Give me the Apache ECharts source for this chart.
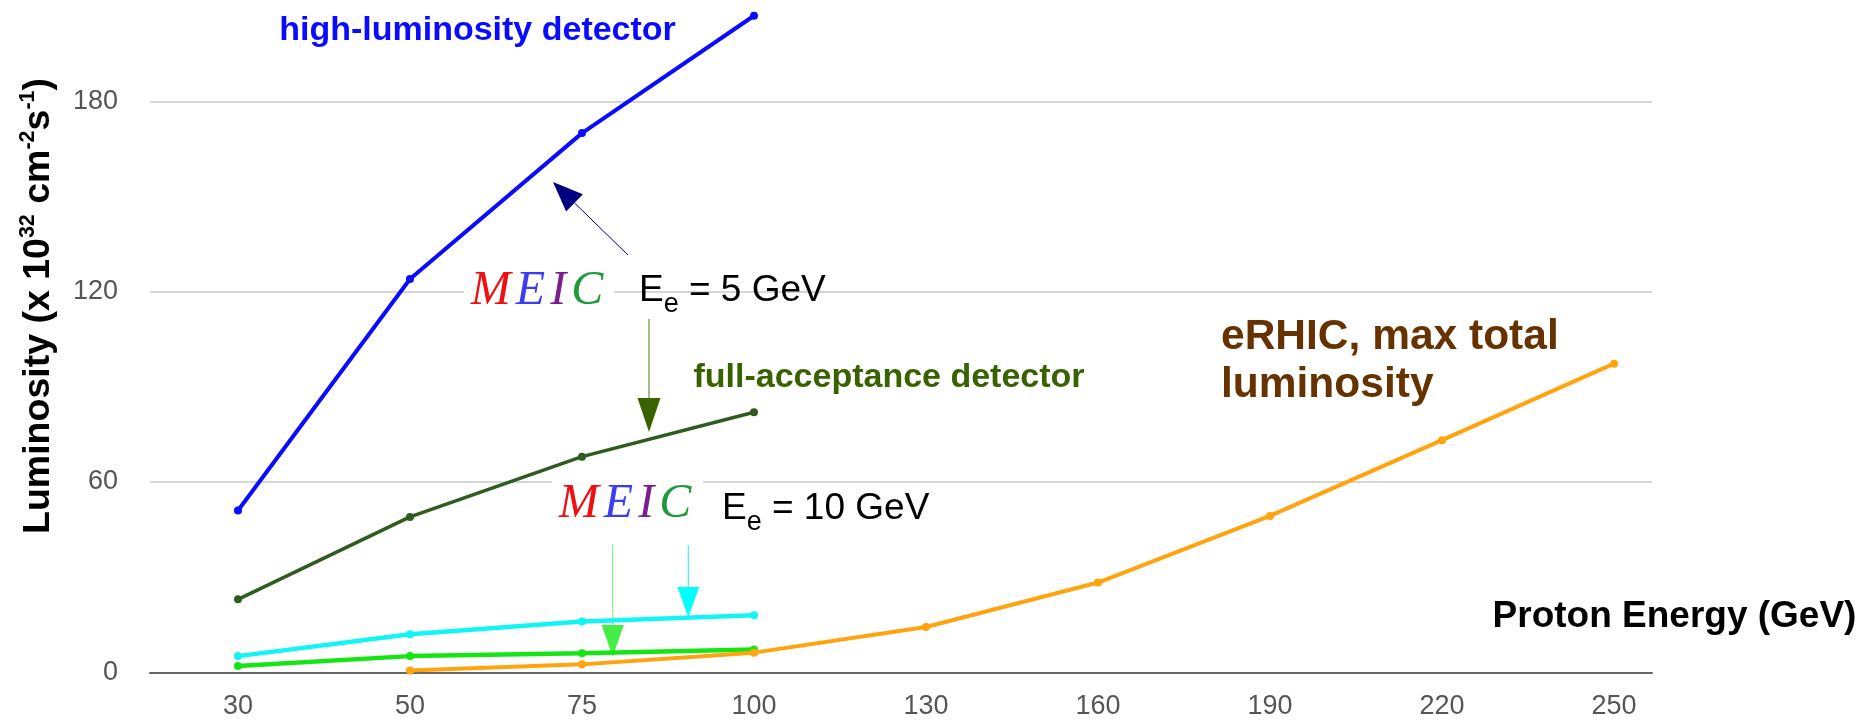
<!DOCTYPE html>
<html>
<head>
<meta charset="utf-8">
<script src="https://cdn.jsdelivr.net/npm/echarts@6/dist/echarts.min.js"></script>
<style>
html,body{margin:0;padding:0;background:#ffffff;}
#chart{width:1876px;height:722px;}
</style>
</head>
<body>
<div id="chart"></div>
<script>
// ---- data ----
const categories = ['30', '50', '75', '100', '130', '160', '190', '220', '250'];
const yMin = 0;
const yMax = 180;
const yStep = 60;
const highLuminosity = [51, 124, 170, 207];          // MEIC Ee = 5 GeV, high-luminosity detector
const fullAcceptance = [23, 49, 68, 82];             // MEIC Ee = 5 GeV, full-acceptance detector
const meic10High = [5.1, 12, 16, 18];                // MEIC Ee = 10 GeV (cyan)
const meic10Full = [2, 5.1, 6, 7.2];                 // MEIC Ee = 10 GeV (green)
const erhicTotal = [null, 0.6, 2.5, 6.2, 14.3, 28.3, 49.3, 73.2, 97.3]; // eRHIC max total luminosity

const FONT = '"Liberation Sans", Arial, Helvetica, sans-serif';
const SERIF = '"Liberation Serif", "Times New Roman", serif';

const chart = echarts.init(document.getElementById('chart'), null, {renderer: 'canvas'});

function lineSeries(name, data, color, width, z) {
  return {
    name: name, type: 'line', xAxisIndex: 1, yAxisIndex: 1, data: data,
    clip: false, symbol: 'circle', symbolSize: 8, showSymbol: true,
    lineStyle: {color: color, width: width},
    itemStyle: {color: color},
    emphasis: {disabled: true}, silent: true, z: z
  };
}

function arrow(x1, y1, x2, y2, lineColor, headColor, headLen, headW, lw) {
  const dx = x2 - x1, dy = y2 - y1, L = Math.hypot(dx, dy);
  const ux = dx / L, uy = dy / L;
  const bx = x2 - ux * headLen, by = y2 - uy * headLen;
  const px = -uy * headW / 2, py = ux * headW / 2;
  return {
    type: 'group', z: 50,
    children: [
      {type: 'line', shape: {x1: x1, y1: y1, x2: bx, y2: by}, style: {stroke: lineColor, lineWidth: lw}},
      {type: 'polygon', shape: {points: [[x2, y2], [bx + px, by + py], [bx - px, by - py]]}, style: {fill: headColor}}
    ]
  };
}

function plainText(x, y, text, size, color, weight, align, lineHeight) {
  return {
    type: 'text', z: 60,
    style: {
      x: x, y: y, text: text, fill: color,
      font: (weight || 'normal') + ' ' + size + 'px ' + FONT,
      fontSize: size, fontFamily: FONT, fontWeight: weight || 'normal',
      lineHeight: lineHeight || Math.round(size * 1.2),
      align: align || 'center', textAlign: align || 'center',
      verticalAlign: 'middle', textVerticalAlign: 'middle'
    }
  };
}

function meicLogo(cx, cy, box) {
  const letter = function (c) {
    return {fontSize: 48, fontStyle: 'italic', fontFamily: SERIF, fill: c, color: c, padding: [0, 2.5, 0, 2.5], lineHeight: 50};
  };
  return [
    {type: 'rect', z: 40, shape: box, style: {fill: '#ffffff'}},
    {
      type: 'text', z: 61,
      style: {
        x: cx, y: cy, text: '{m|M}{e|E}{i|I}{c|C}',
        align: 'center', textAlign: 'center', verticalAlign: 'middle', textVerticalAlign: 'middle',
        rich: {m: letter('#ee1111'), e: letter('#3d3df0'), i: letter('#7a1f8c'), c: letter('#1f9a3a')}
      }
    }
  ];
}

function energyLabel(x, yTop, text) {
  return {
    type: 'text', z: 61,
    style: {
      x: x, y: yTop, text: '{m|E}{s|e}{m|' + text + '}',
      align: 'left', textAlign: 'left', verticalAlign: 'top', textVerticalAlign: 'top',
      rich: {
        m: {fontSize: 37, fontFamily: FONT, fill: '#000', color: '#000', lineHeight: 40, verticalAlign: 'top'},
        s: {fontSize: 27, fontFamily: FONT, fill: '#000', color: '#000', lineHeight: 46, verticalAlign: 'bottom'}
      }
    }
  };
}

const gridTop = 101.4, gridBottom = 49.7;

const option = {
  animation: false,
  backgroundColor: '#ffffff',
  grid: [
    {left: 150, right: 224, top: gridTop, bottom: gridBottom, containLabel: false, outerBoundsMode: 'none'},
    {left: 152, right: 176, top: gridTop, bottom: gridBottom, containLabel: false, outerBoundsMode: 'none'}
  ],
  xAxis: [
    {
      type: 'category', gridIndex: 0, data: categories, boundaryGap: true,
      axisLine: {show: true, lineStyle: {color: '#666666', width: 2}},
      axisTick: {show: false}, axisLabel: {show: false}, splitLine: {show: false}
    },
    {
      type: 'category', gridIndex: 1, data: categories, boundaryGap: true,
      axisLine: {show: false}, axisTick: {show: false}, splitLine: {show: false},
      axisLabel: {show: true, margin: 21, fontSize: 27, fontFamily: FONT, color: '#555555', interval: 0}
    }
  ],
  yAxis: [
    {
      type: 'value', gridIndex: 0, min: yMin, max: yMax, interval: yStep,
      axisLine: {show: false}, axisTick: {show: false},
      axisLabel: {show: true, margin: 32, fontSize: 27, fontFamily: FONT, color: '#555555'},
      splitLine: {show: true, lineStyle: {color: '#d6d6d6', width: 2}}
    },
    {
      type: 'value', gridIndex: 1, min: yMin, max: yMax, interval: yStep, show: false,
      splitLine: {show: false}
    }
  ],
  series: [
    lineSeries('high-luminosity detector (MEIC, Ee = 5 GeV)', highLuminosity, '#0a0aff', 4, 10),
    lineSeries('full-acceptance detector (MEIC, Ee = 5 GeV)', fullAcceptance, '#2f5b1f', 3.5, 11),
    lineSeries('MEIC, Ee = 10 GeV (high-luminosity)', meic10High, '#11f5f5', 4.5, 12),
    lineSeries('MEIC, Ee = 10 GeV (full-acceptance)', meic10Full, '#14e614', 4.5, 13),
    lineSeries('eRHIC, max total luminosity', erhicTotal, '#ffa30f', 4, 14)
  ],
  graphic: [
    // y axis title (rotated, with superscripts)
    {
      type: 'text', z: 60, x: 39, y: 306, rotation: Math.PI / 2,
      style: {
        x: 0, y: 0,
        text: '{b|Luminosity (x 10}{p|32}{b| cm}{p|-2}{b|s}{p|-1}{b|)}',
        align: 'center', textAlign: 'center', verticalAlign: 'middle', textVerticalAlign: 'middle',
        rich: {
          b: {fontSize: 37.5, fontWeight: 'bold', fontFamily: FONT, fill: '#000', color: '#000', lineHeight: 44, verticalAlign: 'middle'},
          p: {fontSize: 21.5, fontWeight: 'bold', fontFamily: FONT, fill: '#000', color: '#000', lineHeight: 21, verticalAlign: 'top'}
        }
      }
    },
    // x axis title
    plainText(1674.5, 617, 'Proton Energy (GeV)', 37, '#000000', 'bold', 'center'),
    // series annotations
    plainText(477.5, 31, 'high-luminosity detector', 34, '#0a0aff', 'bold', 'center'),
    plainText(889, 378, 'full-acceptance detector', 34, '#386200', 'bold', 'center'),
    plainText(1221, 361.5, 'eRHIC, max total\nluminosity', 42.5, '#663300', 'bold', 'left', 48),
    // MEIC logos and electron energy labels
    ...meicLogo(537, 291, {x: 464, y: 268, width: 150, height: 46}),
    ...meicLogo(625, 504, {x: 552, y: 478, width: 151, height: 48}),
    energyLabel(639, 272, ' = 5 GeV'),
    energyLabel(722, 490, ' = 10 GeV'),
    // arrows
    arrow(628, 255, 553, 182, '#000080', '#000080', 30, 24, 1),
    arrow(649, 319, 649, 432, '#6a8f3a', '#3a6300', 34, 23, 1.2),
    arrow(612.7, 545, 612.7, 657, '#88ee88', '#44ee44', 32, 22, 1.2),
    arrow(688.3, 545, 688.3, 617, '#44eeee', '#00ffff', 30, 22, 1.2)
  ]
};

chart.setOption(option);
</script>
</body>
</html>
